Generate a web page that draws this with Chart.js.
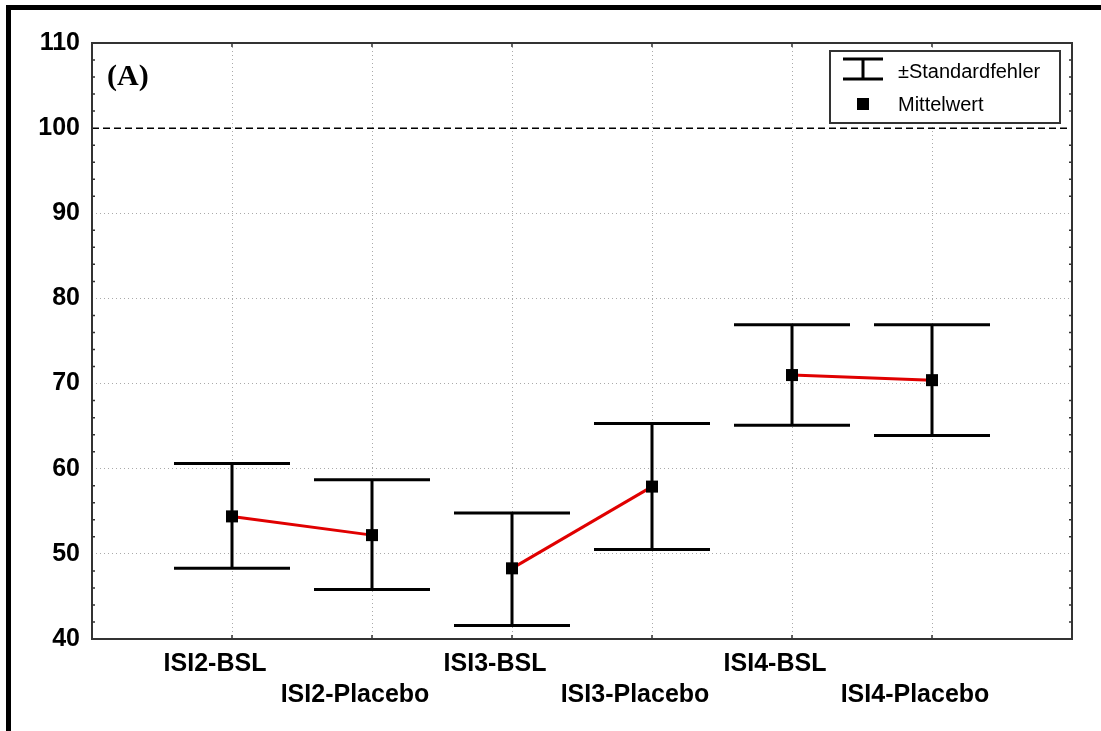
<!DOCTYPE html>
<html>
<head>
<meta charset="utf-8">
<script src="https://cdn.jsdelivr.net/npm/chart.js@4.4.1/dist/chart.umd.min.js"></script>
<style>
    html, body { margin: 0; padding: 0; background: #fff; overflow: hidden; }
    #wrap { position: absolute; left: 0; top: 0; width: 1101px; height: 731px; }
    #rahmen { position: absolute; left: 6px; top: 5px; width: 1095px; height: 726px; box-sizing: border-box;
              border-top: 5px solid #000; border-left: 5px solid #000; pointer-events: none; }
</style>
</head>
<body>
<div id="wrap"><canvas id="grafik"></canvas></div>
<div id="rahmen"></div>
<script>
// Werte
const kategorien = ['ISI2-BSL', 'ISI2-Placebo', 'ISI3-BSL', 'ISI3-Placebo', 'ISI4-BSL', 'ISI4-Placebo'];
const mittelwerte = [54.4, 52.2, 48.3, 57.9, 71.0, 70.4];
const oberGrenze = [60.6, 58.7, 54.8, 65.3, 76.9, 76.9];
const unterGrenze = [48.3, 45.8, 41.6, 50.5, 65.1, 63.9];
const yTicks = [40, 50, 60, 70, 80, 90, 100, 110];
const referenzWert = 100;
const paare = [[0, 1], [2, 3], [4, 5]];
const legendeTexte = ['±Standardfehler', 'Mittelwert'];
const panelText = '(A)';

const xWerte = kategorien.map((_, i) => i + 1);

const datensaetze = [];
paare.forEach(([a, b]) => {
    datensaetze.push({
        type: 'line',
        data: [{ x: xWerte[a], y: mittelwerte[a] }, { x: xWerte[b], y: mittelwerte[b] }],
        borderColor: '#e00000', borderWidth: 3, pointRadius: 0, order: 1
    });
});
datensaetze.push({
    type: 'scatter',
    data: xWerte.map((x, i) => ({ x: x, y: mittelwerte[i] })),
    pointStyle: 'rect', pointRadius: 8.5, backgroundColor: '#000', borderColor: '#000', borderWidth: 0, order: 0
});

// Fehlerbalken, Referenzlinie, Rahmen, Legende
const zusatzPlugin = {
    id: 'zusatz',
    beforeDatasetsDraw(chart) {
        const ctx = chart.ctx;
        const xs = chart.scales.x, ys = chart.scales.y;
        const ca = chart.chartArea;
        ctx.save();
        // gestrichelte Linie bei 100
        ctx.strokeStyle = '#000';
        ctx.lineWidth = 1.5;
        ctx.setLineDash([7, 4]);
        ctx.beginPath();
        ctx.moveTo(ca.left, ys.getPixelForValue(referenzWert));
        ctx.lineTo(ca.right, ys.getPixelForValue(referenzWert));
        ctx.stroke();
        ctx.setLineDash([]);
        // Fehlerbalken
        ctx.lineWidth = 3;
        xWerte.forEach((xv, i) => {
            const px = xs.getPixelForValue(xv);
            const oben = ys.getPixelForValue(oberGrenze[i]);
            const unten = ys.getPixelForValue(unterGrenze[i]);
            ctx.beginPath();
            ctx.moveTo(px, oben); ctx.lineTo(px, unten);
            ctx.moveTo(px - 58, oben); ctx.lineTo(px + 58, oben);
            ctx.moveTo(px - 58, unten); ctx.lineTo(px + 58, unten);
            ctx.stroke();
        });
        ctx.restore();
    },
    afterDraw(chart) {
        const ctx = chart.ctx;
        const xs = chart.scales.x, ys = chart.scales.y;
        const ca = chart.chartArea;
        ctx.save();
        // kleine Teilstriche
        ctx.strokeStyle = '#333';
        ctx.lineWidth = 1.5;
        ctx.beginPath();
        for (let v = 42; v < 110; v += 2) {
            const py = ys.getPixelForValue(v);
            const lang = v % 10 === 0 ? 0 : 3;
            if (!lang) continue;
            ctx.moveTo(ca.left, py); ctx.lineTo(ca.left + lang, py);
            ctx.moveTo(ca.right, py); ctx.lineTo(ca.right - lang, py);
        }
        xWerte.forEach(xv => {
            const px = xs.getPixelForValue(xv);
            ctx.moveTo(px, ca.bottom); ctx.lineTo(px, ca.bottom - 4);
            ctx.moveTo(px, ca.top); ctx.lineTo(px, ca.top + 4);
        });
        ctx.stroke();
        // Rahmen
        ctx.lineWidth = 2;
        ctx.strokeRect(ca.left, ca.top, ca.right - ca.left, ca.bottom - ca.top);
        // (A)
        ctx.fillStyle = '#000';
        ctx.font = 'bold 30px "Liberation Serif", "Times New Roman", serif';
        ctx.textBaseline = 'alphabetic';
        ctx.textAlign = 'left';
        ctx.fillText(panelText, 107, 85);
        // Legende
        ctx.fillStyle = '#fff';
        ctx.fillRect(830, 51, 230, 72);
        ctx.strokeStyle = '#333';
        ctx.lineWidth = 2;
        ctx.strokeRect(830, 51, 230, 72);
        ctx.strokeStyle = '#000';
        ctx.lineWidth = 3;
        ctx.beginPath();
        ctx.moveTo(843, 59); ctx.lineTo(883, 59);
        ctx.moveTo(863, 59); ctx.lineTo(863, 79);
        ctx.moveTo(843, 79); ctx.lineTo(883, 79);
        ctx.stroke();
        ctx.fillStyle = '#000';
        ctx.fillRect(857, 98, 12, 12);
        ctx.font = '20px "Liberation Sans", Arial, sans-serif';
        ctx.textBaseline = 'middle';
        ctx.fillText(legendeTexte[0], 898, 72);
        ctx.fillText(legendeTexte[1], 898, 105);
        ctx.restore();
    }
};

const achsenSchrift = { family: '"Liberation Sans", Arial, sans-serif', size: 25, weight: 'bold', lineHeight: 1.25 };

new Chart(document.getElementById('grafik'), {
    data: { datasets: datensaetze },
    options: {
        responsive: true,
        maintainAspectRatio: false,
        animation: false,
        events: [],
        layout: { padding: { left: 0, right: 29, top: 43, bottom: 0 } },
        plugins: { legend: { display: false }, tooltip: { enabled: false } },
        scales: {
            x: {
                type: 'linear', min: 0, max: 7,
                afterBuildTicks: s => { s.ticks = [0].concat(xWerte, [7]).map(v => ({ value: v })); },
                afterFit: s => { s.height = 92; },
                grid: {
                    drawTicks: false, lineWidth: 1,
                    color: c => (c.tick && (c.tick.value === 0 || c.tick.value === 7)) ? 'rgba(0,0,0,0)' : '#aaa'
                },
                border: { display: false, dash: [1, 3] },
                ticks: {
                    color: '#000', font: achsenSchrift, padding: 9, labelOffset: -17,
                    maxRotation: 0, autoSkip: false,
                    callback: v => {
                        const i = v - 1;
                        if (i < 0 || i >= kategorien.length) return '';
                        return i % 2 === 0 ? [kategorien[i]] : ['', kategorien[i]];
                    }
                }
            },
            y: {
                type: 'linear', min: 40, max: 110,
                afterBuildTicks: s => { s.ticks = yTicks.map(v => ({ value: v })); },
                afterFit: s => { s.width = 92; },
                grid: {
                    drawTicks: false, lineWidth: 1,
                    color: c => (c.tick && [40, 100, 110].includes(c.tick.value)) ? 'rgba(0,0,0,0)' : '#aaa'
                },
                border: { display: false, dash: [1, 3] },
                ticks: { color: '#000', font: achsenSchrift, padding: 12 }
            }
        }
    },
    plugins: [zusatzPlugin]
});
</script>
</body>
</html>
